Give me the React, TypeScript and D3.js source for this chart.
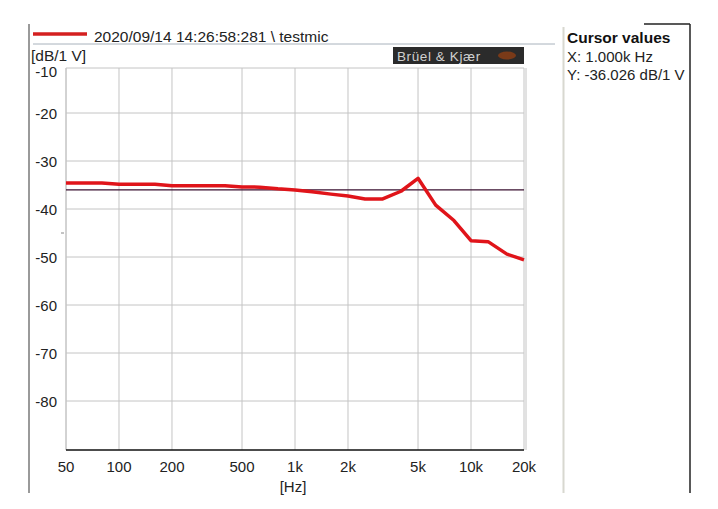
import React from "react";
import * as d3 from "d3";

const freqs = [50, 80, 100, 160, 200, 400, 500, 630, 800, 1000, 1250, 1600, 2000, 2500, 3150, 4000, 5000, 6300, 8000, 10000, 12500, 16000, 20000];
const levels = [-34.6, -34.6, -34.85, -34.85, -35.15, -35.15, -35.4, -35.45, -35.8, -36.03, -36.4, -36.9, -37.3, -37.9, -37.9, -36.3, -33.6, -39.2, -42.4, -46.6, -46.8, -49.4, -50.6];
const xTicks = [50, 100, 200, 500, 1000, 2000, 5000, 10000, 20000];
const xTickLabels = ["50", "100", "200", "500", "1k", "2k", "5k", "10k", "20k"];
const yTicks = [-20, -30, -40, -50, -60, -70, -80];
const yTopLabel = "-10";
const cursorX = 1000;
const cursorY = -36.026;
const legendLabel = "2020/09/14 14:26:58:281 \\ testmic";

const W = 718, H = 509;
const L = 66, R = 524, T = 68, B = 450;
const FONT = "'Liberation Sans', Arial, sans-serif";

export default function App() {
  const x = d3.scaleLog().domain([50, 20000]).range([L, R]);
  const y = d3.scaleLinear().domain([-80, -20]).range([401, 113]);
  const line = d3.line<number>().x((_, i) => x(freqs[i])).y((d) => y(d));
  return (
    <svg width={W} height={H} style={{ position: "absolute", left: 0, top: 0, background: "#fff" }} fontFamily={FONT}>
      <rect x={0} y={0} width={W} height={H} fill="#fff" />
      {/* left frame line */}
      <line x1={29} y1={24} x2={29} y2={493} stroke="#9a9a9a" strokeWidth={2} />
      {/* legend */}
      <line x1={33} y1={34} x2={87} y2={34} stroke="#d42020" strokeWidth={3.5} />
      <text x={94} y={42} fontSize={15.5} fill="#222">{legendLabel}</text>
      <line x1={33} y1={44} x2={555} y2={44} stroke="#a8b2bc" strokeWidth={1} />
      {/* unit */}
      <text x={31} y={61} fontSize={15.5} fill="#222">[dB/1 V]</text>
      {/* B&K logo */}
      <rect x={393} y={47} width={131} height={17} fill="#2b2b2b" />
      <text x={397} y={60.5} fontSize={13.5} letterSpacing={0.6} fill="#d0d0d0">Brüel &amp; Kjær</text>
      <ellipse cx={507} cy={55.5} rx={9} ry={4} fill="#7a3a18" />
      {/* grid */}
      {xTicks.map((t) => (
        <line key={"gx" + t} x1={x(t)} x2={x(t)} y1={T} y2={B} stroke="#c4c4c4" strokeWidth={1} />
      ))}
      {yTicks.map((t) => (
        <line key={"gy" + t} x1={L} x2={R} y1={y(t)} y2={y(t)} stroke="#c4c4c4" strokeWidth={1} />
      ))}
      <line x1={L} x2={R} y1={T} y2={T} stroke="#c4c4c4" strokeWidth={1} />
      <line x1={L} x2={L} y1={T} y2={B} stroke="#c4c4c4" strokeWidth={1} />
      <line x1={R + 2} x2={R + 2} y1={T} y2={B} stroke="#c4c4c4" strokeWidth={1} />
      {/* cursor line */}
      <line x1={L} x2={R} y1={y(cursorY)} y2={y(cursorY)} stroke="#3a1030" strokeWidth={1.2} />
      {/* data */}
      <path d={line(levels) || ""} fill="none" stroke="#e0141a" strokeWidth={3.5} strokeLinejoin="round" />
      {/* bottom axis */}
      <line x1={L} x2={R} y1={B} y2={B} stroke="#111" strokeWidth={1.5} />
      <line x1={61} x2={64} y1={y(-45)} y2={y(-45)} stroke="#888" strokeWidth={1} />
      {/* y labels */}
      {yTicks.map((t) => (
        <text key={"yl" + t} x={57} y={y(t) + 5.5} fontSize={15} textAnchor="end" fill="#222">{t}</text>
      ))}
      <text x={57} y={77} fontSize={15} textAnchor="end" fill="#222">{yTopLabel}</text>
      {xTicks.map((t, i) => (
        <text key={"xl" + t} x={x(t)} y={471.5} fontSize={15} textAnchor="middle" fill="#222">{xTickLabels[i]}</text>
      ))}
      <text x={293} y={492} fontSize={15} textAnchor="middle" fill="#222">[Hz]</text>
      {/* cursor panel */}
      <line x1={563.5} y1={27} x2={563.5} y2={493} stroke="#d8d8d0" strokeWidth={2} />
      <line x1={690} y1={24} x2={690} y2={493} stroke="#222" strokeWidth={1.5} />
      <line x1={644} y1={24} x2={690} y2={24} stroke="#222" strokeWidth={1.5} />
      <text x={567} y={43} fontSize={15.5} fontWeight="bold" fill="#111">Cursor values</text>
      <text x={567} y={62} fontSize={15} fill="#222">X: {(cursorX / 1000).toFixed(3)}k Hz</text>
      <text x={567} y={80} fontSize={15} fill="#222">Y: {cursorY.toFixed(3)} dB/1 V</text>
    </svg>
  );
}
